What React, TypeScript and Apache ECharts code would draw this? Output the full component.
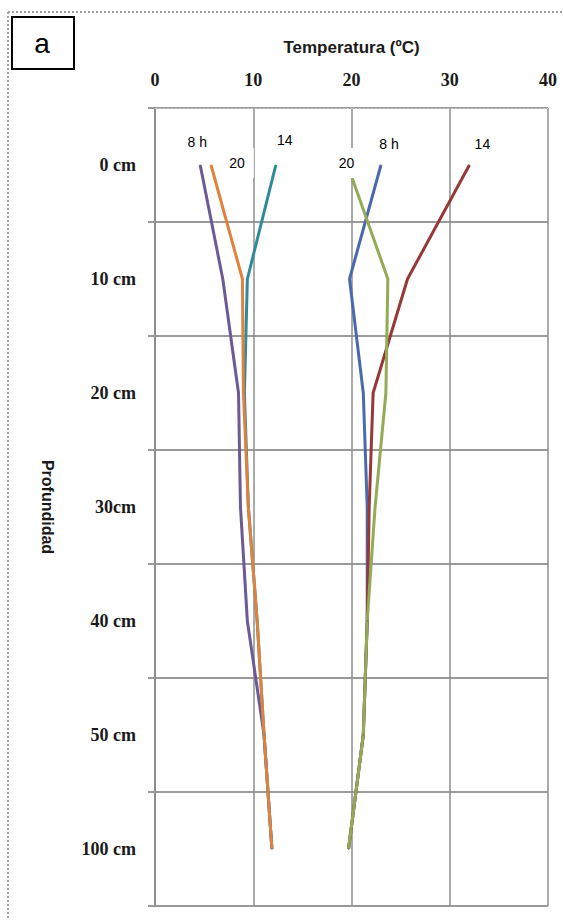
import React, { useEffect, useRef } from "react";
import * as echarts from "echarts";

// Depth categories (y axis, top to bottom)
const depthCategories = ["0 cm", "10 cm", "20 cm", "30cm", "40 cm", "50 cm", "100 cm"];

// Temperatures (ºC) per depth — first profile group
const leftH8 = [4.6, 6.9, 8.5, 8.7, 9.4, 11.1, 11.9];
const leftH14 = [12.3, 9.4, 9.1, 9.5, 10.4, 11.1, 11.9];
const leftH20 = [5.7, 8.9, 9.0, 9.5, 10.4, 11.1, 11.9];

// Temperatures (ºC) per depth — second profile group
const rightH8 = [23.0, 19.8, 21.2, 21.6, 21.6, 21.2, 19.7];
const rightH14 = [32.0, 25.7, 22.2, 21.8, 21.6, 21.2, 19.7];
const rightH20 = [19.6, 23.7, 23.5, 22.4, 21.6, 21.2, 19.7];

const hourLabels = ["8 h", "14", "20", "8 h", "14", "20"];

export default function App() {
  const ref = useRef<HTMLDivElement>(null);

  useEffect(() => {
    if (!ref.current) return;
    const chart = echarts.init(ref.current, null, { renderer: "svg" });

    const labelFont = {
      fontFamily: "Liberation Sans",
      fontSize: 14,
      color: "#000",
    };

    const mk = (
      name: string,
      values: number[],
      color: string,
      label: string,
      offset: number[],
      bg: boolean
    ) => ({
      name,
      type: "line",
      data: values.map((v, i) =>
        i === 0
          ? {
              value: v,
              label: {
                show: true,
                position: "inside",
                offset,
                formatter: label,
                ...labelFont,
                backgroundColor: bg ? "#ffffff" : "transparent",
                padding: bg ? [8, 9] : 0,
              },
            }
          : v
      ),
      symbol: "circle",
      symbolSize: 1,
      showSymbol: true,
      itemStyle: { color },
      lineStyle: { color, width: 3 },
      label: { show: false },
      z: 3,
    });

    const option: any = {
      animation: false,
      backgroundColor: "#ffffff",
      grid: { left: 155, right: 15, top: 108, bottom: 14, containLabel: false },
      xAxis: {
        type: "value",
        position: "top",
        min: 0,
        max: 40,
        interval: 10,
        name: "Temperatura (ºC)",
        nameLocation: "middle",
        nameGap: 52,
        nameTextStyle: {
          fontFamily: "Liberation Sans",
          fontWeight: "bold",
          fontSize: 17,
          color: "#1a1a1a",
        },
        axisLine: { show: true, lineStyle: { color: "#c8c8c8", width: 1, type: [2, 2] } },
        axisTick: { show: false },
        axisLabel: {
          margin: 19,
          fontFamily: "Liberation Serif",
          fontWeight: "bold",
          fontSize: 18,
          color: "#1a1a1a",
        },
        splitLine: { show: true, lineStyle: { color: "#8e8e8e", width: 1.5 } },
      },
      yAxis: {
        type: "category",
        data: depthCategories,
        inverse: true,
        boundaryGap: true,
        name: "Profundidad",
        nameLocation: "middle",
        nameRotate: -90,
        nameGap: 100,
        nameTextStyle: {
          fontFamily: "Liberation Sans",
          fontWeight: "bold",
          fontSize: 16,
          color: "#1a1a1a",
        },
        axisLine: { show: true, lineStyle: { color: "#8e8e8e", width: 2 } },
        axisTick: { show: true, length: 7, lineStyle: { color: "#9a9a9a", width: 2 } },
        axisLabel: {
          margin: 19,
          fontFamily: "Liberation Serif",
          fontWeight: "bold",
          fontSize: 18,
          color: "#1a1a1a",
        },
        splitLine: { show: true, lineStyle: { color: "#9a9a9a", width: 2 } },
      },
      series: [
        mk("8 h (a)", leftH8, "#6b5a95", hourLabels[0], [-3, -23], false),
        mk("14 (a)", leftH14, "#2f8a9c", hourLabels[1], [9, -25], false),
        mk("20 (a)", leftH20, "#e0823f", hourLabels[2], [26, -2], true),
        mk("8 h (b)", rightH8, "#4a6aab", hourLabels[3], [8, -21], false),
        mk("14 (b)", rightH14, "#963838", hourLabels[4], [13, -21], false),
        mk("20 (b)", rightH20, "#93ab55", hourLabels[5], [-1, -2], true),
      ],
      graphic: [
        {
          type: "line",
          shape: { x1: 8, y1: 12, x2: 563, y2: 12 },
          style: { stroke: "#a0a0a0", lineWidth: 2, lineDash: [2, 2] },
          silent: true,
        },
        {
          type: "line",
          shape: { x1: 8, y1: 12, x2: 8, y2: 920 },
          style: { stroke: "#a0a0a0", lineWidth: 2, lineDash: [2, 2] },
          silent: true,
        },
        {
          type: "rect",
          shape: { x: 12, y: 17, width: 62, height: 52 },
          style: { fill: "#ffffff", stroke: "#000000", lineWidth: 2 },
          silent: true,
        },
        {
          type: "text",
          x: 42,
          y: 43,
          style: {
            text: "a",
            fontFamily: "Liberation Sans",
            fontSize: 28,
            fill: "#000",
            align: "center",
            verticalAlign: "middle",
          },
          silent: true,
        },
      ],
    };

    chart.setOption(option);
    return () => chart.dispose();
  }, []);

  return (
    <div
      ref={ref}
      style={{ position: "absolute", left: 0, top: 0, width: 563, height: 920 }}
    />
  );
}
